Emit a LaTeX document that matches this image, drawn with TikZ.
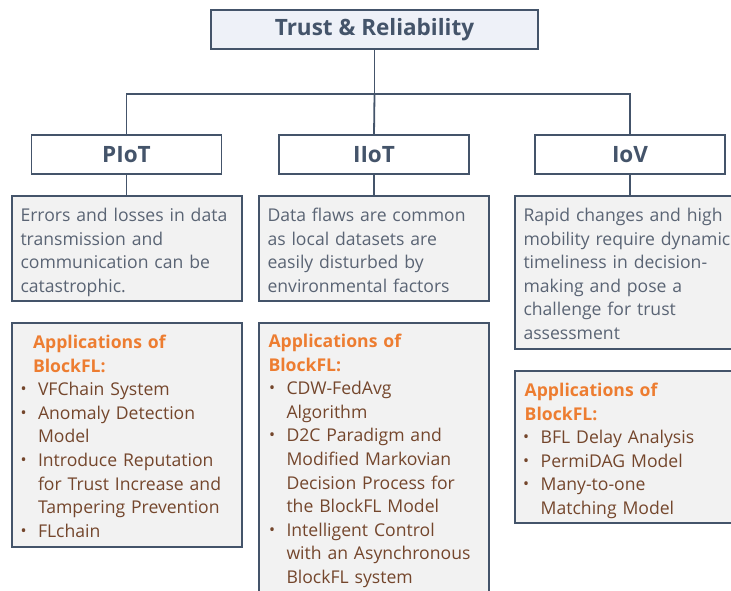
\documentclass[tikz,border=0pt]{standalone}
\usepackage{fontspec}
\setmainfont{Open Sans}
\definecolor{edge}{HTML}{44546A}
\definecolor{titlefill}{HTML}{EEF1F8}
\definecolor{panel}{HTML}{F2F2F2}
\definecolor{desctext}{HTML}{5A6474}
\definecolor{accent}{HTML}{ED7D31}
\definecolor{itemtext}{HTML}{74462C}
\newcommand\bitem[1]{\makebox[18pt][l]{\hspace*{0.5pt}\raisebox{1pt}{\fontsize{16}{16}\selectfont\textbullet}}#1}
\newcommand\bcont{\hspace*{18pt}}
\newcommand\apphead[1]{{\color{accent}\bfseries #1}}
\begin{document}
\begin{tikzpicture}[x=1pt,y=-1pt,
  boxbase/.style={draw=edge, line width=1.8pt, inner sep=0pt, outer sep=0pt},
  titlebox/.style={boxbase, fill=titlefill, text=edge, minimum width=327pt, minimum height=39pt, font=\bfseries\fontsize{22.5}{26}\selectfont},
  headbox/.style={boxbase, fill=white, text=edge, minimum width=190pt, minimum height=39pt, font=\bfseries\fontsize{22.5}{26}\selectfont},
  panelbox/.style={boxbase, fill=panel, anchor=north west},
  bodytext/.style={anchor=north west, inner sep=0pt, outer sep=0pt, align=left, text width=#1, font=\fontsize{17.6}{23.6}\selectfont, execute at begin node=\strut},
  desc/.style={bodytext=#1, text=desctext},
  apps/.style={bodytext=#1, text=itemtext},
  link/.style={draw=edge, line width=1.8pt}
]
\useasboundingbox (0,0) rectangle (731,591);
\clip (0,0) rectangle (731,591);

% title and headers
\node[titlebox] (t) at (374.5,29.5) {Trust \& Reliability};
\node[headbox] (h1) at (126.5,154.5) {PIoT};
\node[headbox] (h2) at (374,154.5) {IIoT};
\node[headbox] (h3) at (630,154.5) {IoV};

% description panels
\node[panelbox, minimum width=230pt, minimum height=105pt] (d1) at (12,196) {};
\node[panelbox, minimum width=230pt, minimum height=105pt] (d2) at (259,196) {};
\node[panelbox, minimum width=240pt, minimum height=153pt] (d3) at (515,196) {};

% application panels
\node[panelbox, minimum width=230pt, minimum height=224pt] (a1) at (12,323) {};
\node[panelbox, minimum width=230pt, minimum height=290pt] (a2) at (259,323) {};
\node[panelbox, minimum width=240pt, minimum height=152pt] (a3) at (515,371) {};

% connectors
\coordinate (bus) at (374.5,94);
\draw[link] (t.south) -- (bus);
\draw[link] (h1.north) |- (bus) -| (h3.north);
\draw[link] (bus) -- (h2.north);
\draw[link] (h1.south) -- (h1.south |- d1.north);
\draw[link] (h2.south) -- (h2.south |- d2.north);
\draw[link] (h3.south) -- (h3.south |- d3.north);

% description texts
\node[desc=220pt] (d1t) at (20.5,205) {Errors and losses in data\\transmission and\\communication can be\\catastrophic.};
\node[desc=220pt] (d2t) at (267.5,205) {Data flaws are common\\as local datasets are\\easily disturbed by\\environmental factors};
\node[desc=240pt] (d3t) at (523.5,205) {Rapid changes and high\\mobility require dynamic\\timeliness in decision-\\making and pose a\\challenge for trust\\assessment};

% application texts
\node[apps=220pt] (a1t) at (20,332) {\hspace*{13pt}\apphead{Applications of}\\
\hspace*{13pt}\apphead{BlockFL:}\\
\bitem{VFChain System}\\
\bitem{Anomaly Detection}\\
\bcont Model\\
\bitem{Introduce Reputation}\\
\bcont for Trust Increase and\\
\bcont Tampering Prevention\\
\bitem{FLchain}};

\node[apps=220pt] (a2t) at (268.5,331) {\apphead{Applications of}\\
\apphead{BlockFL:}\\
\bitem{CDW-FedAvg}\\
\bcont Algorithm\\
\bitem{D2C Paradigm and}\\
\bcont Modified Markovian\\
\bcont Decision Process for\\
\bcont the BlockFL Model\\
\bitem{Intelligent Control}\\
\bcont with an Asynchronous\\
\bcont BlockFL system};

\node[apps=208pt] (a3t) at (522.7,380) {\hspace*{2pt}\apphead{Applications of}\\
\hspace*{2pt}\apphead{BlockFL:}\\
\bitem{BFL Delay Analysis}\\
\bitem{PermiDAG Model}\\
\bitem{Many-to-one}\\
\bcont Matching Model};
\end{tikzpicture}
\end{document}
